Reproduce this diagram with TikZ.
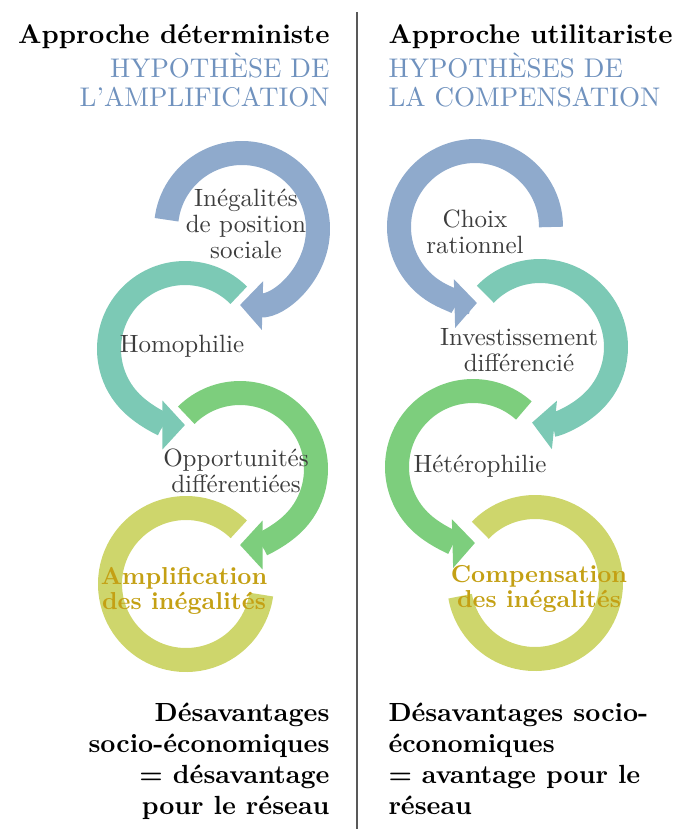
\documentclass[tikz,border=0pt]{standalone}
\usetikzlibrary{arrows.meta}
\definecolor{arcblue}{RGB}{143,170,204}
\definecolor{arcteal}{RGB}{124,201,181}
\definecolor{arcgreen}{RGB}{125,206,125}
\definecolor{arcyellow}{RGB}{206,214,108}
\definecolor{hypblue}{RGB}{112,146,190}
\definecolor{labelgray}{RGB}{60,60,60}
\definecolor{outgold}{RGB}{196,160,20}
\begin{document}
\begin{tikzpicture}[x=0.4pt,y=0.4pt,
  head/.style={inner sep=0pt,font=\fontsize{10.8}{12.3}\selectfont\bfseries},
  hyp/.style={inner sep=0pt,text=hypblue,font=\fontsize{10.8}{11.8}\selectfont},
  concl/.style={inner sep=0pt,font=\fontsize{10.5}{12.3}\selectfont\bfseries},
  lbl/.style={inner sep=0pt,align=center,text=labelgray,font=\fontsize{10}{10.4}\selectfont},
  outcome/.style={lbl,text=outgold,font=\fontsize{9.8}{10}\selectfont\bfseries},
  ring/.style={line width=9.6pt},
  cyc/.style={ring,-{Triangle[width=19pt,length=9pt]}}]
\useasboundingbox (0,0) rectangle (679,-829);
% separator
\coordinate (sepTop) at (357,-12);
\coordinate (sepBot) at (357,-829);
\draw[line width=0.6pt,black!65] (sepTop) -- (sepBot);
% left column: amplification
\node[head,anchor=base east] (titleL) at (330,-43) {Approche déterministe};
\node[hyp,anchor=north east,align=right] (hypL) at (330,-52) {HYPOTHÈSE DE\\L'AMPLIFICATION};
\coordinate (cIneg) at (242,-229);
\coordinate (cHomo) at (185,-349);
\coordinate (cOppo) at (240,-469);
\coordinate (cAmpl) at (186,-584);
\draw[cyc,arcblue] ([shift={(173:76)}]cIneg) arc[start angle=173,end angle=-91.5,radius=76];
\draw[cyc,arcteal] ([shift={(45:76)}]cHomo) arc[start angle=45,end angle=270,radius=76];
\draw[cyc,arcgreen] ([shift={(135:76)}]cOppo) arc[start angle=135,end angle=-90,radius=76];
\draw[ring,arcyellow] ([shift={(46:76)}]cAmpl) arc[start angle=46,end angle=352,radius=76];
\node[lbl] (ineg) at (246,-224) {Inégalités\\de position\\sociale};
\node[lbl] (homo) at (182,-346) {Homophilie};
\node[lbl] (oppo) at (236,-471) {Opportunités\\différentiées};
\node[outcome] (ampl) at (184,-591) {Amplification\\des inégalités};
\node[concl,anchor=north east,align=right] (conclL) at (330,-703)
  {Désavantages\\socio-économiques\\= désavantage\\pour le réseau};
% right column: compensation
\node[head,anchor=base west] (titleR) at (388,-43) {Approche utilitariste};
\node[hyp,anchor=north west,align=left] (hypR) at (388,-52) {HYPOTHÈSES DE\\LA COMPENSATION};
\coordinate (cChoix) at (475,-227);
\coordinate (cInvest) at (540,-347);
\coordinate (cHetero) at (473,-467);
\coordinate (cComp) at (535,-583);
\draw[cyc,arcblue] ([shift={(0:76)}]cChoix) arc[start angle=0,end angle=271.5,radius=76];
\draw[cyc,arcteal] ([shift={(136:76)}]cInvest) arc[start angle=136,end angle=-96,radius=76];
\draw[cyc,arcgreen] ([shift={(48:76)}]cHetero) arc[start angle=48,end angle=271.5,radius=76];
\draw[ring,arcyellow] ([shift={(136:76)}]cComp) arc[start angle=136,end angle=-170,radius=76];
\node[lbl] (choix) at (475,-232) {Choix\\rationnel};
\node[lbl] (invest) at (519,-350) {Investissement\\différencié};
\node[lbl] (hetero) at (480,-466) {Hétérophilie};
\node[outcome] (comp) at (539,-589) {Compensation\\des inégalités};
\node[concl,anchor=north west,align=left] (conclR) at (388,-703)
  {Désavantages socio-\\économiques\\= avantage pour le\\réseau};
\end{tikzpicture}
\end{document}
